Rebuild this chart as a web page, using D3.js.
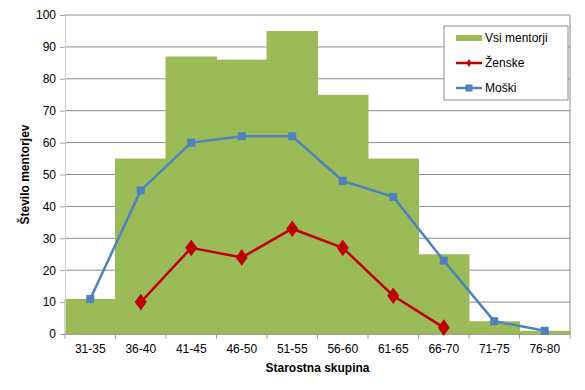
<!DOCTYPE html>
<html>
<head>
<meta charset="utf-8">
<script src="https://cdn.jsdelivr.net/npm/d3@7"></script>
<style>
  body { margin: 0; background: #fff; }
  text { font-family: "Liberation Sans", Arial, sans-serif; }
</style>
</head>
<body>
<svg id="chart"></svg>
<script>
const groups = ["31-35", "36-40", "41-45", "46-50", "51-55", "56-60", "61-65", "66-70", "71-75", "76-80"];
const vsi = [11, 55, 87, 86, 95, 75, 55, 25, 4, 1];
const zenske = [null, 10, 27, 24, 33, 27, 12, 2, null, null];
const moski = [11, 45, 60, 62, 62, 48, 43, 23, 4, 1];
const yTicks = [0, 10, 20, 30, 40, 50, 60, 70, 80, 90, 100];

const width = 585;
const height = 390;
const margin = { top: 15, right: 15, bottom: 56, left: 65 };
const graphWidth = width - margin.left - margin.right;
const graphHeight = height - margin.top - margin.bottom;

const svg = d3.select("#chart")
    .attr("width", width)
    .attr("height", height);

const graph = svg.append("g")
    .attr("transform", `translate(${margin.left},${margin.top})`);

const xScale = d3.scaleBand()
    .domain(groups)
    .range([0, graphWidth])
    .padding(0);

const yScale = d3.scaleLinear()
    .domain([0, 100])
    .range([graphHeight, 0]);

// gridlines
graph.append("g")
    .selectAll("line")
    .data(yTicks.filter(d => d > 0))
    .join("line")
    .attr("x1", 0)
    .attr("x2", graphWidth)
    .attr("y1", d => yScale(d))
    .attr("y2", d => yScale(d))
    .attr("stroke", "#8c8c8c")
    .attr("stroke-width", 1);

// right border
graph.append("line")
    .attr("x1", graphWidth).attr("x2", graphWidth)
    .attr("y1", 0).attr("y2", graphHeight)
    .attr("stroke", "#8c8c8c");

// bars (no gaps, no separators between them)
graph.append("g")
    .selectAll("rect")
    .data(vsi)
    .join("rect")
    .attr("x", (d, i) => xScale(groups[i]) - 0.5)
    .attr("y", d => yScale(d))
    .attr("width", xScale.bandwidth() + 1)
    .attr("height", d => graphHeight - yScale(d))
    .attr("fill", "#9bbb59");

// axes
const yAxis = d3.axisLeft(yScale).tickValues(yTicks).tickSize(5).tickPadding(4);
const yg = graph.append("g").call(yAxis);
yg.select(".domain").attr("stroke", "#d0d0d0");
yg.selectAll(".tick line").attr("stroke", "#a0a0a0");
yg.selectAll("text").attr("font-size", 12).attr("fill", "#000");

const xAxis = d3.axisBottom(xScale).tickSize(0).tickPadding(10);
const xg = graph.append("g")
    .attr("transform", `translate(0,${graphHeight})`)
    .call(xAxis);
xg.select(".domain").attr("stroke", "#a0a0a0");
xg.selectAll("text").attr("font-size", 12).attr("fill", "#000");
xg.append("g")
    .selectAll("line")
    .data(d3.range(groups.length + 1))
    .join("line")
    .attr("x1", d => d * xScale.bandwidth())
    .attr("x2", d => d * xScale.bandwidth())
    .attr("y1", 0)
    .attr("y2", 5)
    .attr("stroke", "#a0a0a0");

// lines
const cx = i => xScale(groups[i]) + xScale.bandwidth() / 2;

const line = d3.line()
    .defined(d => d != null)
    .x((d, i) => cx(i))
    .y(d => yScale(d));

graph.append("path")
    .attr("d", line(moski))
    .attr("fill", "none")
    .attr("stroke", "#4f81bd")
    .attr("stroke-width", 2.5);

graph.append("g")
    .selectAll("rect")
    .data(moski.map((v, i) => ({ v, i })).filter(d => d.v != null))
    .join("rect")
    .attr("x", d => cx(d.i) - 4)
    .attr("y", d => yScale(d.v) - 4)
    .attr("width", 8)
    .attr("height", 8)
    .attr("fill", "#4f81bd");

graph.append("path")
    .attr("d", line(zenske))
    .attr("fill", "none")
    .attr("stroke", "#c00000")
    .attr("stroke-width", 2.5);

const diamond = d3.symbol().type(d3.symbolDiamond).size(80);
graph.append("g")
    .selectAll("path")
    .data(zenske.map((v, i) => ({ v, i })).filter(d => d.v != null))
    .join("path")
    .attr("d", diamond)
    .attr("transform", d => `translate(${cx(d.i)},${yScale(d.v)}) scale(1.25,1)`)
    .attr("fill", "#c00000");

// axis titles
svg.append("text")
    .attr("x", margin.left + graphWidth / 2)
    .attr("y", 372)
    .attr("text-anchor", "middle")
    .attr("font-size", 12)
    .attr("font-weight", "bold")
    .text("Starostna skupina");

svg.append("text")
    .attr("transform", `translate(29,${margin.top + graphHeight / 2}) rotate(-90)`)
    .attr("text-anchor", "middle")
    .attr("font-size", 12)
    .attr("font-weight", "bold")
    .text("Število mentorjev");

// legend
const legend = svg.append("g").attr("transform", "translate(444,26)");
legend.append("rect")
    .attr("width", 124)
    .attr("height", 74)
    .attr("fill", "#fff")
    .attr("stroke", "#8c8c8c");

const items = ["Vsi mentorji", "Ženske", "Moški"];
items.forEach((name, i) => {
    const y = 12 + i * 25;
    const g = legend.append("g").attr("transform", `translate(12,${y})`);
    if (i === 0) {
        g.append("rect").attr("x", 0).attr("y", -3).attr("width", 26).attr("height", 6).attr("fill", "#9bbb59");
    } else {
        const c = i === 1 ? "#c00000" : "#4f81bd";
        g.append("line").attr("x1", 0).attr("x2", 26).attr("stroke", c).attr("stroke-width", 2.5);
        if (i === 1) {
            g.append("path").attr("d", d3.symbol().type(d3.symbolDiamond).size(20)).attr("transform", "translate(13,0)").attr("fill", c);
        } else {
            g.append("rect").attr("x", 9.5).attr("y", -3.5).attr("width", 7).attr("height", 7).attr("fill", c);
        }
    }
    g.append("text")
        .attr("x", 29)
        .attr("y", 0)
        .attr("dy", "0.35em")
        .attr("font-size", 12)
        .text(name);
});
</script>
</body>
</html>
